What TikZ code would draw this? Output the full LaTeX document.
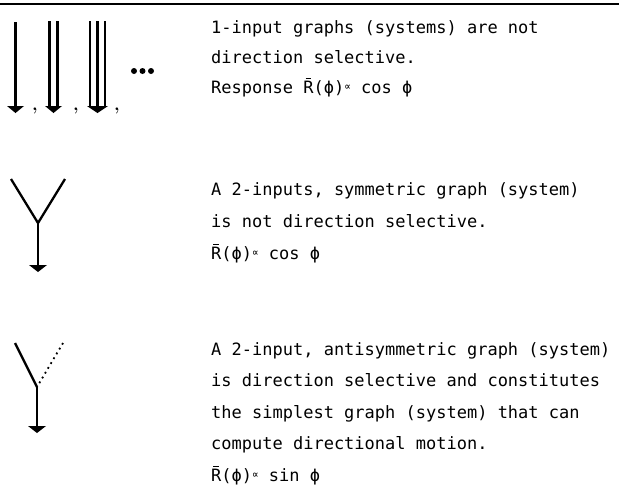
\documentclass[tikz,border=0pt]{standalone}
\usepackage{fontspec}
\newfontfamily\monof{DejaVu Sans Mono}
\newcommand{\prop}{{\fontsize{11}{11}\selectfont\raisebox{3pt}{∝}}}
\newcommand{\Rbar}{\leavevmode\rlap{\hspace{0.13em}\raisebox{0.83em}{\rule{0.34em}{0.065em}}}R}
\begin{document}
\begin{tikzpicture}[x=1pt,y=-1pt,
  stemline/.style={line width=2.8pt},
  armline/.style={line width=2.3pt},
  dotarm/.style={line width=1.8pt,dash pattern=on 1.8pt off 3.8pt},
  txt/.style={anchor=base west,inner sep=0pt,font=\monof\fontsize{17}{20}\selectfont},
  commamark/.style={anchor=base,inner sep=0pt,font=\fontsize{18}{18}\selectfont\bfseries}]
\useasboundingbox (0,0) rectangle (619,488);
\draw[line width=2pt] (0,3.5) -- (619,3.5);
% row 1 arrows
\coordinate (a1t) at (15.5,22);  \coordinate (a1b) at (15.5,107);
\draw[stemline] (a1t) -- (a1b);
\fill (7,106) -- (24,106) -- (15.5,113) -- cycle;
\node[commamark] (c1) at (35,110) {,};
\coordinate (a2t) at (49.5,21); \coordinate (a2b) at (49.5,107);
\coordinate (a3t) at (57.5,21); \coordinate (a3b) at (57.5,107);
\draw[stemline] (a2t) -- (a2b);
\draw[stemline] (a3t) -- (a3b);
\fill (45,106) -- (62,106) -- (53.5,113) -- cycle;
\node[commamark] (c2) at (76,110) {,};
\coordinate (a4t) at (90,21); \coordinate (a4b) at (90,107);
\coordinate (a5t) at (97.5,21); \coordinate (a5b) at (97.5,107);
\coordinate (a6t) at (105,21); \coordinate (a6b) at (105,107);
\draw[stemline] (a4t) -- (a4b);
\draw[stemline] (a5t) -- (a5b);
\draw[stemline] (a6t) -- (a6b);
\fill (87,106) -- (108,106) -- (97.5,113) -- cycle;
\node[commamark] (c3) at (117,110) {,};
\foreach \x in {134,142.5,151} \fill (\x,71) circle (3pt);
% Y symmetric
\coordinate (l2) at (11,179); \coordinate (r2) at (65,179);
\coordinate (j2) at (38,223); \coordinate (s2) at (38,266);
\draw[armline] (l2) -- (j2);
\draw[armline] (r2) -- (j2);
\draw[stemline] (j2) -- (s2);
\fill (29,265) -- (47,265) -- (38,272) -- cycle;
% Y antisymmetric
\coordinate (l3) at (15,343); \coordinate (r3) at (63,343);
\coordinate (j3) at (37,387); \coordinate (s3) at (37,427);
\draw[armline] (l3) -- (j3);
\draw[dotarm] (r3) -- (j3);
\draw[stemline] (j3) -- (s3);
\fill (28,426) -- (46,426) -- (37,433) -- cycle;
% texts
\node[txt] (t11) at (211,33) {1-input graphs (systems) are not};
\node[txt] (t12) at (211,63) {direction selective.};
\node[txt] (t13) at (211,93) {Response \Rbar(ϕ)\prop\ cos ϕ};
\node[txt] (t21) at (211,195) {A 2-inputs, symmetric graph (system)};
\node[txt] (t22) at (211,227) {is not direction selective.};
\node[txt] (t23) at (211,259) {\Rbar(ϕ)\prop\ cos ϕ};
\node[txt] (t31) at (211,355) {A 2-input, antisymmetric graph (system)};
\node[txt] (t32) at (211,386) {is direction selective and constitutes};
\node[txt] (t33) at (211,418) {the simplest graph (system) that can};
\node[txt] (t34) at (211,449) {compute directional motion.};
\node[txt] (t35) at (211,481) {\Rbar(ϕ)\prop\ sin ϕ};
\end{tikzpicture}
\end{document}
